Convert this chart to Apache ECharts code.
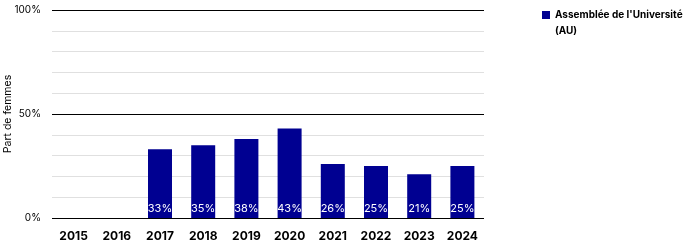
<!DOCTYPE html>
<html><head><meta charset="utf-8">
<script src="https://cdn.jsdelivr.net/npm/echarts@6/dist/echarts.min.js"></script>
<style>html,body{margin:0;padding:0;background:#fff}#c{width:688px;height:252px}</style>
</head><body><div id="c"></div>
<script>
const categories = ['2015','2016','2017','2018','2019','2020','2021','2022','2023','2024'];
const seriesName = "Assemblée de l'Université (AU)";
const values = [null, null, 33, 35, 38, 43, 26, 25, 21, 25];
const yTickLabels = {0: '0%', 50: '50%', 100: '100%'};

const chart = echarts.init(document.getElementById('c'), null, {renderer: 'canvas'});
chart.setOption({
  animation: false,
  textStyle: {fontFamily: 'Inter'},
  grid: {left: 52, right: 204, top: 10, bottom: 34, containLabel: false, outerBoundsMode: 'none'},
  legend: {
    show: true, left: 542, top: -9, orient: 'vertical', padding: 0,
    itemWidth: 8, itemHeight: 8, itemGap: 4,
    icon: 'rect',
    formatter: () => " \nAssemblée de l'Université\n(AU)",
    textStyle: {fontFamily: 'Inter', fontSize: 10, fontWeight: 'bold', color: '#000', lineHeight: 16},
    data: [seriesName]
  },
  xAxis: {
    type: 'category', data: categories,
    axisLine: {show: false}, axisTick: {show: false},
    axisLabel: {color: '#000', fontWeight: 'bold', fontSize: 12, margin: 12}
  },
  yAxis: {
    type: 'value', min: 0, max: 100, interval: 10,
    name: 'Part de femmes', nameLocation: 'middle', nameGap: 39, nameRotate: 90,
    nameMoveOverlap: false,
    nameTextStyle: {color: '#000', fontSize: 10.5},
    axisLine: {show: false}, axisTick: {show: false},
    axisLabel: {color: '#000', fontSize: 10, margin: 11, formatter: v => yTickLabels[v] || ''},
    splitLine: {lineStyle: {color: ['#000', '#e0e0e0', '#e0e0e0', '#e0e0e0', '#e0e0e0'], width: 1}}
  },
  series: [{
    name: seriesName, type: 'bar', data: values, barWidth: 24,
    itemStyle: {color: '#000091'},
    label: {show: true, position: 'insideBottom', distance: 4, color: '#fff', fontSize: 11, formatter: p => p.value + '%'}
  }]
});
</script></body></html>
